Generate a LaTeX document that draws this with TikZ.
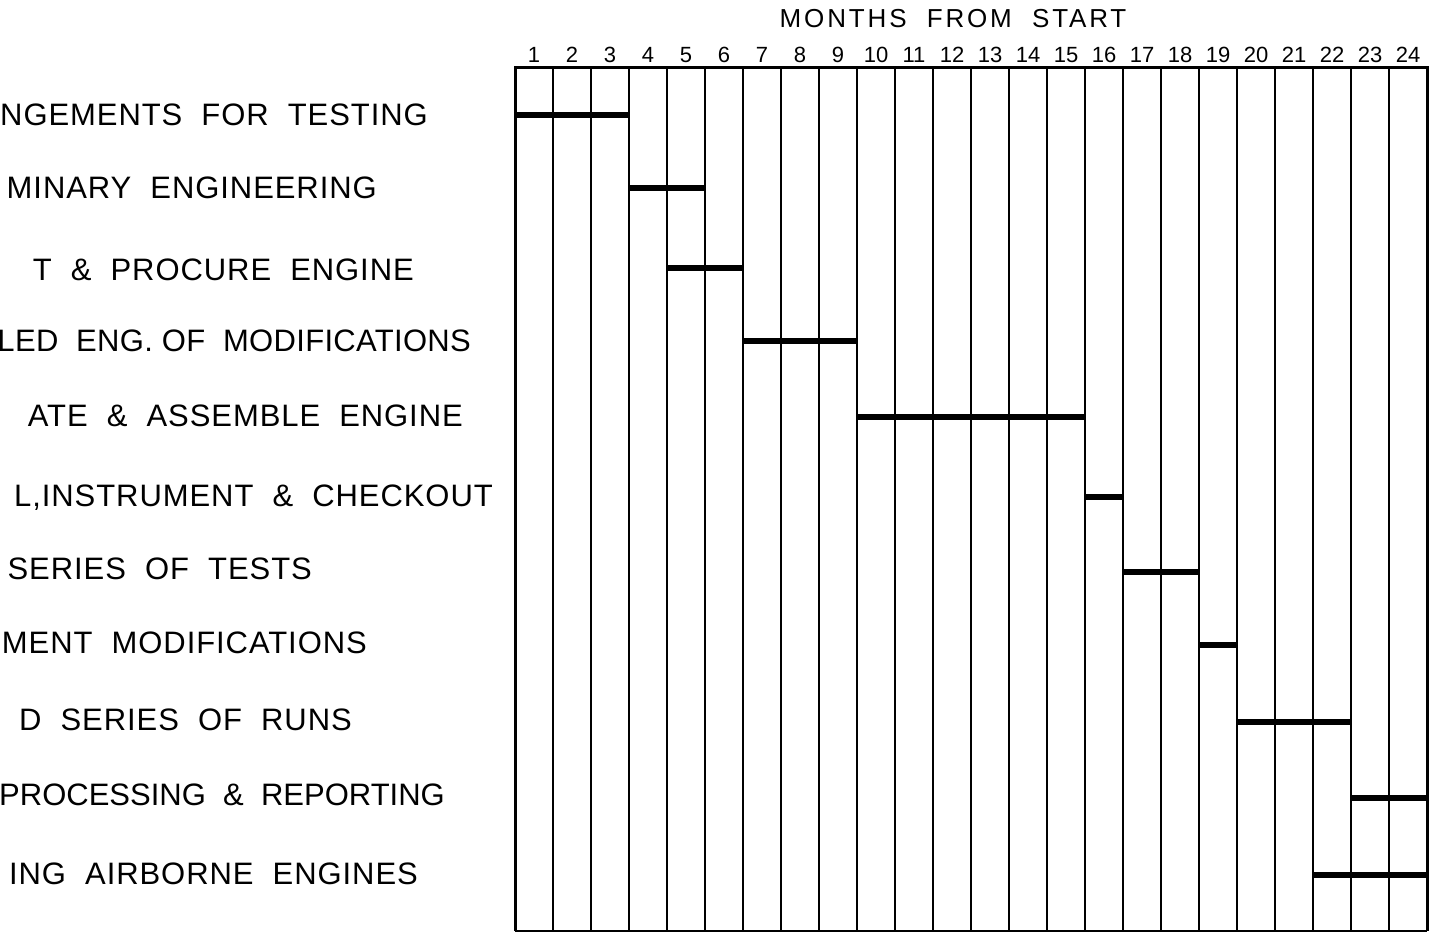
\documentclass[tikz,border=0pt]{standalone}
\usepackage{fontspec}
\setmainfont{Liberation Sans}
\newfontfamily\wideletters[LetterSpace=3]{Liberation Sans}
\newfontfamily\tightletters[LetterSpace=1]{Liberation Sans}
\newfontfamily\headletters[LetterSpace=11]{Liberation Sans}
\usepackage{tikz}
\usetikzlibrary{positioning}

\begin{document}
\begin{tikzpicture}[x=1pt,y=-1pt,
      task/.style={anchor=base east,inner sep=0pt,font=\wideletters\fontsize{31}{31}\selectfont},
      longtask/.style={task,font=\tightletters\fontsize{31}{31}\selectfont},
      plaintask/.style={task,font=\rmfamily\fontsize{31}{31}\selectfont},
      month/.style={anchor=base,inner sep=0pt,font=\fontsize{22}{22}\selectfont},
      grid/.style={line width=2.3pt},
      frame/.style={line width=3pt},
      bar/.style={line width=5.5pt}]
    \useasboundingbox (0,0) rectangle (1439,933);
    % heading
    \node[anchor=base,inner sep=0pt,font=\headletters\fontsize{26}{26}\selectfont] (head) at (953,28) {MONTHS\ \ FROM\ \ START};
    % month columns
    \foreach \m in {1,...,24} {
      \node[month] (M\m) at (496+38*\m,63) {\m};
    }
    \foreach \k in {1,...,23} {
      \draw[grid] (515+38*\k,68) -- (515+38*\k,931);
    }
    \draw[frame] (515,931) -- (515,68) -- (1427,68) -- (1427,931);
    \draw[grid] (515,931) -- (1427,931);
    % task names (cut at the left edge)
    \node[task] (T1) at (428,126) {NGEMENTS\ \ FOR\ \ TESTING};
    \node[task] (T2) at (377,199) {MINARY\ \ ENGINEERING};
    \node[task] (T3) at (414,280) {T\ \ \&\ \ PROCURE\ \ ENGINE};
    \node[longtask] (T4) at (471,351) {LED\ \ ENG.\ OF\ \ MODIFICATIONS};
    \node[task] (T5) at (463,426) {ATE\ \ \&\ \ ASSEMBLE\ \ ENGINE};
    \node[task] (T6) at (493,506) {L,INSTRUMENT\ \ \&\ \ CHECKOUT};
    \node[task] (T7) at (312,579) {SERIES\ \ OF\ \ TESTS};
    \node[task] (T8) at (367,653) {MENT\ \ MODIFICATIONS};
    \node[task] (T9) at (352,730) {D\ \ SERIES\ \ OF\ \ RUNS};
    \node[plaintask] (T10) at (445,805) {PROCESSING\ \ \&\ \ REPORTING};
    \node[task] (T11) at (418,884) {ING\ \ AIRBORNE\ \ ENGINES};
    % schedule bars: {first month/last month/y}
    \foreach \a/\b/\y in {1/3/115, 4/5/188, 5/6/268, 7/9/341, 10/15/417, 16/16/497,
                          17/18/572, 19/19/645, 20/22/722, 23/24/798, 22/24/875} {
      \draw[bar] (477+38*\a,\y) -- (515+38*\b,\y);
    }
  \end{tikzpicture}
\end{document}
